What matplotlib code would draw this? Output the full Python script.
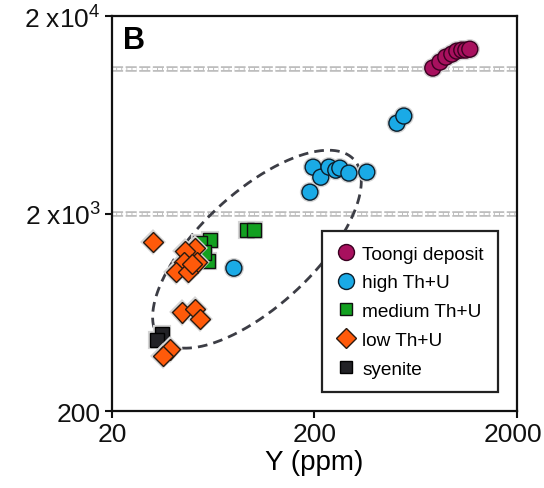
import numpy as np
import matplotlib
matplotlib.use("Agg")
import matplotlib.pyplot as plt
from matplotlib.lines import Line2D
import matplotlib.patheffects as pe
from matplotlib.transforms import ScaledTranslation

plt.rcParams['font.family'] = ['Liberation Sans', 'DejaVu Sans']
plt.rcParams['mathtext.default'] = 'regular'

# ---- data (Y ppm vs second variable) ----
toongi_x = [769, 834, 892, 955, 1011, 1070, 1120, 1172]
toongi_y = [10920, 11700, 12400, 12850, 13300, 13460, 13460, 13600]

high_x = [511, 553, 197, 215, 236, 255, 267, 296, 363, 190, 80]
high_y = [5740, 6240, 3440, 3060, 3440, 3320, 3400, 3210, 3245, 2570, 1060]

medium_x = [93, 100.5, 61, 54.4, 59.6, 56.9]
medium_y = [1650, 1650, 1470, 1420, 1150, 1276]

low_x = [31.9, 51.4, 45.9, 45.3, 52.6, 41.4, 47.5, 49.7, 44.3, 51.4, 54.4, 38.7, 35.7]
low_y = [1435, 1340, 1290, 1136, 1136, 1012, 1012, 1110, 634, 657, 585, 412, 380]

syenite_x = [35.3, 33.4]
syenite_y = [491, 457]

x_ticks = [20, 200, 2000]
x_ticklabels = ['20', '200', '2000']
y_ticks = [200, 2000, 20000]
y_ticklabels = ['200', r'2 x10$^{3}$', r'2 x10$^{4}$']
grid_y = [2000, 10800]

# ellipse (log10 space): centre, semi-axes (decades), angle
ell_cx, ell_cy = np.log10(104), np.log10(1322)
ell_a, ell_b, ell_ang = 0.66, 0.285, 43.8

halo = [pe.Stroke(linewidth=3.0, foreground='#d4d4d4'), pe.Normal()]

fig = plt.figure(figsize=(5.44, 4.89), dpi=100)
ax = fig.add_axes([0.206, 0.157, 0.744, 0.808])
ax.set_xscale('log')
ax.set_yscale('log')
ax.set_xlim(20, 2000)
ax.set_ylim(200, 20000)

# dashed "hollow" gridlines
for gy in grid_y:
    ax.axhline(gy, color='#bcbcbc', lw=4.0, dashes=(2.0, 0.45), zorder=1)
    ax.axhline(gy, color='white', lw=1.5, dashes=(2.0, 0.45), zorder=1.1)

# ellipse
t = np.linspace(0, 2 * np.pi, 400)
th = np.deg2rad(ell_ang)
u = ell_a * np.cos(t)
v = ell_b * np.sin(t)
ex = ell_cx + u * np.cos(th) - v * np.sin(th)
ey = ell_cy + u * np.sin(th) + v * np.cos(th)
ax.plot(10 ** ex, 10 ** ey, color='#3c3d45', lw=2.0, dashes=(3.5, 2.2), zorder=2)

ms_c = 11.5
c_toongi, c_high, c_med, c_low, c_sye = '#A8105E', '#1AAAE6', '#12A020', '#FF5A0A', '#222226'
ax.plot(syenite_x, syenite_y, 's', ms=10, mfc=c_sye, mec='black', mew=1.0, zorder=3,
        path_effects=halo)
ax.plot(low_x, low_y, 'D', ms=10.5, mfc=c_low, mec='#2a1a10', mew=1.0, zorder=4,
        path_effects=halo)
ax.plot(medium_x, medium_y, 's', ms=10.5, mfc=c_med, mec='#101010', mew=1.0, zorder=3.5,
        path_effects=halo)
ax.plot(high_x, high_y, 'o', ms=ms_c, mfc=c_high, mec='#0c1e2c', mew=1.0, zorder=5,
        path_effects=halo)
ax.plot(toongi_x, toongi_y, 'o', ms=ms_c, mfc=c_toongi, mec='#3a0020', mew=1.0, zorder=5,
        path_effects=halo)

# axes styling
for s in ax.spines.values():
    s.set_linewidth(1.6)
    s.set_color('#111111')
ax.set_xticks(x_ticks)
ax.set_xticklabels(x_ticklabels)
ax.set_yticks(y_ticks)
ax.set_yticklabels(y_ticklabels)
ax.minorticks_off()
ax.tick_params(axis='both', which='major', direction='out', length=5, width=1.5,
               labelsize=19, colors='#111111')
ax.tick_params(axis='x', pad=3)
ax.tick_params(axis='y', pad=3)
ax.set_xlabel('Y (ppm)', fontsize=20, labelpad=2)

# keep the last x tick label inside the figure
last = ax.get_xticklabels()[-1]
last.set_transform(last.get_transform() + ScaledTranslation(-4 / 100, 0, fig.dpi_scale_trans))

ax.text(0.027, 0.978, 'B', transform=ax.transAxes, fontsize=22, fontweight='bold',
        va='top', ha='left')

handles = [
    Line2D([], [], ls='none', marker='o', ms=ms_c, mfc=c_toongi, mec='#3a0020', mew=1.0),
    Line2D([], [], ls='none', marker='o', ms=ms_c, mfc=c_high, mec='#0c1e2c', mew=1.0),
    Line2D([], [], ls='none', marker='s', ms=9, mfc=c_med, mec='#101010', mew=1.0),
    Line2D([], [], ls='none', marker='D', ms=10.5, mfc=c_low, mec='#2a1a10', mew=1.0),
    Line2D([], [], ls='none', marker='s', ms=9, mfc=c_sye, mec='black', mew=1.0),
]
labels = ['Toongi deposit', 'high Th+U', 'medium Th+U', 'low Th+U', 'syenite']
leg = ax.legend(handles, labels, loc='upper left', bbox_to_anchor=(0.519, 0.456),
                borderaxespad=0, fontsize=13.7, frameon=True, fancybox=False,
                handlelength=1.0, handletextpad=0.35, labelspacing=0.6,
                borderpad=0.75, edgecolor='#222222', framealpha=1)
leg.get_frame().set_linewidth(1.6)
leg.set_zorder(6)

fig.savefig('out.png', dpi=100)
